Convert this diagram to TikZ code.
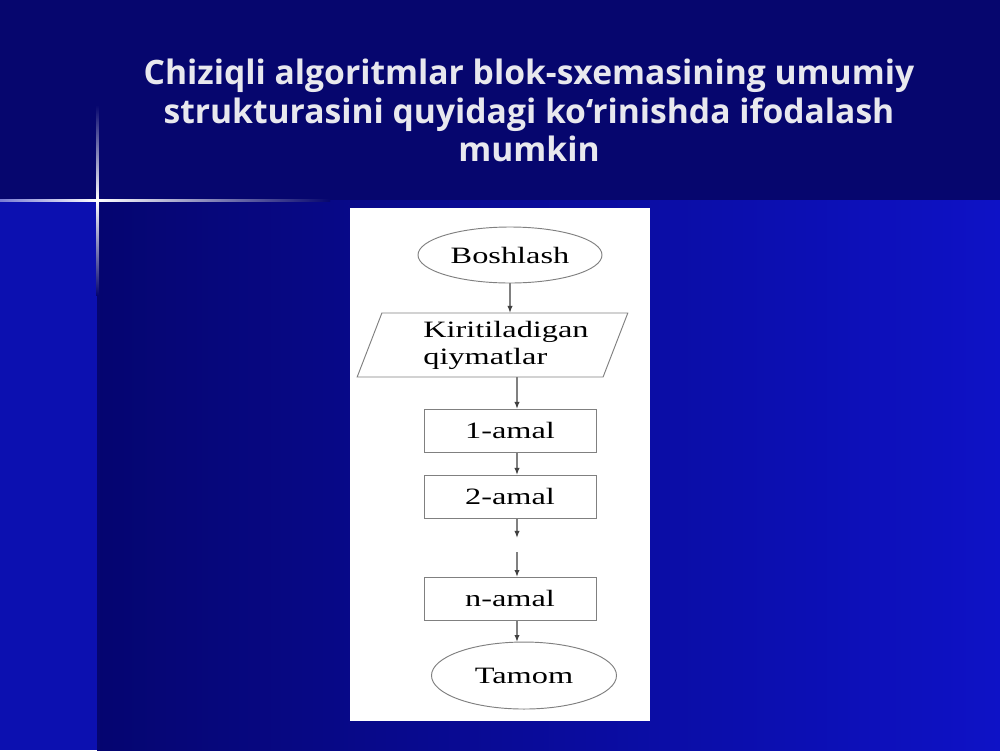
\documentclass[tikz,border=0pt]{standalone}
\usepackage{fontspec}
\usetikzlibrary{positioning, shapes.geometric, arrows.meta}
\newfontfamily\titlefont{Open Sans}
\newfontfamily\flowfont[FakeStretch=1.38]{Liberation Serif}
\definecolor{topnavy}{RGB}{6, 6, 110}
\definecolor{lowdark}{RGB}{5, 5, 112}
\definecolor{lowbright}{RGB}{14, 18, 198}
\definecolor{stripblue}{RGB}{12, 16, 176}
\definecolor{titlewhite}{RGB}{232, 232, 238}
\definecolor{linegray}{RGB}{128, 128, 128}
\tikzset{
    % Node Styles
    flowtext/.style={font=\flowfont\fontsize{20}{23}\selectfont, text=black},
    terminal/.style={
        ellipse, draw=linegray, thick, fill=white, inner sep=0pt, outer sep=0pt,
        flowtext
    },
    iobox/.style={
        trapezium, trapezium left angle=66, trapezium right angle=114,
        trapezium stretches=true, draw=linegray, thick, fill=white,
        minimum width=8.13cm, minimum height=1.92cm, inner sep=0pt, outer sep=0pt,
        align=left, flowtext
    },
    action/.style={
        rectangle, draw=linegray, thick, fill=white, inner sep=0pt, outer sep=0pt,
        minimum width=5.16cm, minimum height=1.29cm, flowtext
    },
    titletext/.style={
        font=\titlefont\bfseries\fontsize{28.7}{32.8}\selectfont,
        text=titlewhite, align=center, inner sep=0pt
    },
    % Arrow Styles
    flow/.style={-{Latex[length=6pt, width=4.5pt, color=black!75]}, line width=1.2pt, color=linegray}
}

\begin{document}
\begin{tikzpicture}[x=0.03cm, y=-0.03cm]
    \useasboundingbox (0,0) rectangle (1000,750);

    % --- 1. Slide background ---
    \fill[topnavy] (0,0) rectangle (1000,200);
    \fill[stripblue] (0,200) rectangle (97,750);
    \shade[left color=lowdark, right color=lowbright] (97,200) rectangle (1000,750);

    % sparkle
    \shade[top color=topnavy, bottom color=white] (96,105) rectangle (98.5,200);
    \shade[top color=white, bottom color=lowdark] (96,200) rectangle (98.5,295);
    \shade[left color=stripblue!55!white, right color=white] (0,199) rectangle (97,201.5);
    \shade[left color=white, right color=topnavy] (97,199) rectangle (330,201.5);

    % --- 2. Title ---
    \node[titletext, anchor=north] (title) at (529,59)
        {Chiziqli algoritmlar blok-sxemasining umumiy\\ strukturasini quyidagi ko‘rinishda ifodalash\\ mumkin};

    % --- 3. Flowchart ---
    \fill[white] (350,208) rectangle (650,721);
    \coordinate (axis) at (517,0);

    \node[terminal, minimum width=5.52cm, minimum height=1.68cm] (start) at (510,255) {Boshlash};
    \node[iobox, below=0.9cm of start, xshift=-0.525cm] (input)
        {\hspace*{0.81cm}Kiritiladigan\\\hspace*{0.81cm}qiymatlar};
    \node[action, below=0.96cm of input, xshift=0.525cm] (step1) {1-amal};
    \node[action, below=0.69cm of step1] (step2) {2-amal};
    \node[action, below=1.77cm of step2] (stepn) {n-amal};
    \node[terminal, minimum width=5.55cm, minimum height=2.01cm, below=0.66cm of stepn, xshift=0.42cm] (stop) {Tamom};

    \coordinate (gaptop) at (517,538);
    \coordinate (gapbot) at (517,552);

    \draw[flow] (start.south) -- (start.south |- input.north);
    \draw[flow] (input.south -| axis) -- (step1.north -| axis);
    \draw[flow] (step1.south -| axis) -- (step2.north -| axis);
    \draw[flow] (step2.south -| axis) -- (gaptop);
    \draw[flow] (gapbot) -- (stepn.north -| axis);
    \draw[flow] (stepn.south -| axis) -- (stop.north -| axis);

\end{tikzpicture}
\end{document}
